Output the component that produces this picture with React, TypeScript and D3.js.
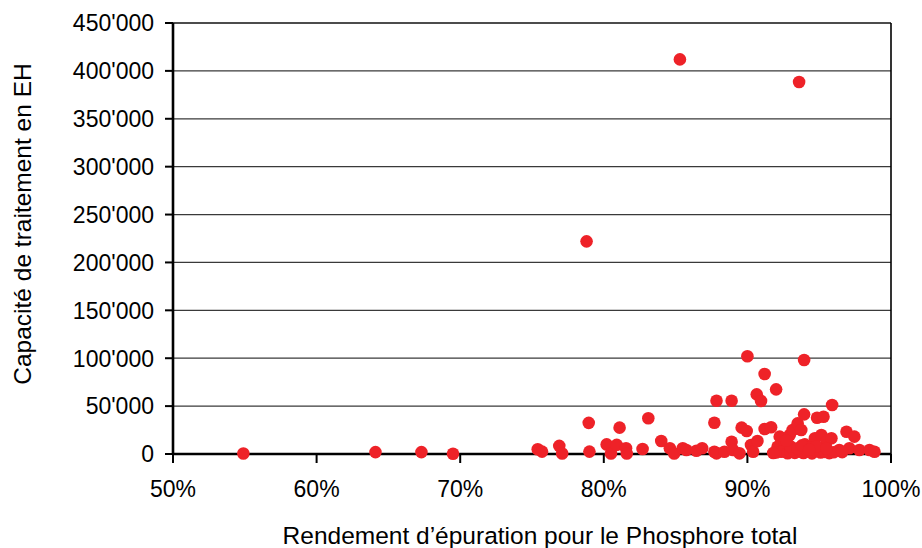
import * as d3 from 'd3';
import React, { useRef, useEffect } from 'react';

// rendement (%) de chaque STEP
const rendement = [
  54.9, 64.1, 67.3, 69.5, 75.4, 75.7, 76.9, 77.1, 78.8, 78.95,
  79.0, 80.2, 80.5, 80.9, 81.1, 81.55, 81.6, 82.7, 83.1, 84.0,
  84.6, 84.9, 85.3, 85.5, 85.75, 86.45, 86.85, 87.7, 87.7, 87.85,
  87.85, 88.4, 88.9, 89.0, 88.9, 89.45, 89.6, 89.95, 90.0, 90.25,
  90.4, 90.7, 90.65, 90.95, 91.2, 91.2, 91.65, 92.0, 92.25, 92.1,
  92.35, 92.6, 92.95, 93.15, 93.5, 93.6, 93.75, 93.95, 93.95, 94.7,
  94.85, 95.3, 95.15, 95.5, 95.85, 95.9, 96.9, 97.45, 96.4, 97.1,
  97.8, 98.5, 98.85,
  92.0, 92.5, 92.8, 93.0, 93.3, 93.6, 93.9, 94.2, 94.5, 94.8,
  95.1, 95.4, 95.7, 96.0, 93.0, 93.5, 94.0, 94.3, 94.8, 95.5,
  92.7, 93.8, 94.3, 91.8, 96.6
];

// capacité de traitement (EH)
const capacite = [
  500, 2000, 2000, 300, 5000, 2500, 8500, 500, 222000, 32500,
  2500, 10000, 500, 9500, 27500, 6000, 500, 5200, 37300, 13600,
  6000, 500, 412000, 6000, 4200, 3400, 6000, 2400, 32700, 55600,
  700, 2400, 12800, 4200, 55600, 700, 27500, 24000, 102000, 9400,
  2400, 13600, 62300, 55300, 83500, 26100, 27900, 67500, 18100, 7600,
  2400, 12800, 19800, 25100, 32000, 388400, 25100, 41400, 98100, 16400,
  37900, 38900, 19800, 12800, 16400, 51200, 23300, 18100, 4200, 6000,
  4200, 4200, 2400,
  1500, 3000, 800, 2500, 1200, 3500, 1000, 2800, 700, 3200,
  1500, 2200, 900, 1800, 8000, 6000, 10000, 7000, 8000, 6000,
  14000, 9000, 4500, 1000, 2000
];

const xTicks = [0.5, 0.6, 0.7, 0.8, 0.9, 1.0];
const yTicks = [0, 50000, 100000, 150000, 200000, 250000, 300000, 350000, 400000, 450000];

const xTitle = "Rendement d\u2019épuration pour le Phosphore total";
const yTitle = "Capacité de traitement en EH";

function ScatterChart({ width, height }) {
  const ref = useRef();

  useEffect(() => {
    let svg = d3.select(ref.current);
    svg.selectAll('*').remove();
    draw();
  }, []);

  const draw = () => {
    let left = 173, right = 891, top = 23, bottom = 454;
    let font = "'Liberation Sans', Arial, sans-serif";
    let fs = 23, titleFs = 24.5;

    let x = d3.scaleLinear().domain([0.5, 1.0]).range([left, right]);
    let y = d3.scaleLinear().domain([0, 450000]).range([bottom, top]);

    let svg = d3.select(ref.current);

    // grid
    svg.selectAll('.grid')
      .data(yTicks.filter(d => d > 0))
      .enter()
      .append('line')
      .attr('x1', left).attr('x2', right)
      .attr('y1', d => y(d)).attr('y2', d => y(d))
      .attr('stroke', d => d === 450000 ? '#111' : '#3a3a3a')
      .attr('stroke-width', d => d === 450000 ? 1.6 : 1.2);

    // right border
    svg.append('line')
      .attr('x1', right).attr('x2', right)
      .attr('y1', top).attr('y2', bottom)
      .attr('stroke', '#000').attr('stroke-width', 1.6);

    // y axis
    svg.append('line')
      .attr('x1', left).attr('x2', left)
      .attr('y1', top).attr('y2', bottom)
      .attr('stroke', '#000').attr('stroke-width', 2.6);
    svg.selectAll('.ytick')
      .data(yTicks)
      .enter()
      .append('line')
      .attr('x1', left - 8).attr('x2', left)
      .attr('y1', d => y(d)).attr('y2', d => y(d))
      .attr('stroke', '#000').attr('stroke-width', 2);
    let fmt = d3.formatLocale({ decimal: '.', thousands: "'", grouping: [3], currency: ['', ''] }).format(',');
    svg.selectAll('.ylabel')
      .data(yTicks)
      .enter()
      .append('text')
      .attr('x', 154)
      .attr('y', d => y(d))
      .attr('dy', '0.36em')
      .attr('text-anchor', 'end')
      .attr('font-family', font)
      .attr('font-size', fs)
      .attr('fill', '#000')
      .text(d => fmt(d));

    // x axis
    svg.append('line')
      .attr('x1', left).attr('x2', right)
      .attr('y1', bottom).attr('y2', bottom)
      .attr('stroke', '#000').attr('stroke-width', 2.6);
    svg.selectAll('.xtick')
      .data(xTicks)
      .enter()
      .append('line')
      .attr('x1', d => x(d)).attr('x2', d => x(d))
      .attr('y1', bottom).attr('y2', bottom + 9)
      .attr('stroke', '#000').attr('stroke-width', 2);
    svg.selectAll('.xlabel')
      .data(xTicks)
      .enter()
      .append('text')
      .attr('x', d => x(d))
      .attr('y', 497)
      .attr('text-anchor', 'middle')
      .attr('font-family', font)
      .attr('font-size', fs)
      .attr('fill', '#000')
      .text(d => d3.format('.0%')(d));

    // titles
    svg.append('text')
      .attr('x', 540)
      .attr('y', 544)
      .attr('text-anchor', 'middle')
      .attr('font-family', font)
      .attr('font-size', titleFs)
      .attr('fill', '#000')
      .text(xTitle);

    svg.append('text')
      .attr('transform', 'translate(31,' + 224 + ') rotate(-90)')
      .attr('text-anchor', 'middle')
      .attr('font-family', font)
      .attr('font-size', titleFs)
      .attr('fill', '#000')
      .text(yTitle);

    // points
    svg.selectAll('.dot')
      .data(rendement)
      .enter()
      .append('circle')
      .attr('cx', d => x(d / 100))
      .attr('cy', (d, i) => y(capacite[i]))
      .attr('r', 6.3)
      .attr('fill', '#ee2228');
  };

  return (
    <svg ref={ref} width={width} height={height}
      style={{ position: 'absolute', left: 0, top: 0, background: '#fff' }} />
  );
}

export default function App() {
  return <ScatterChart width={922} height={548} />;
}
